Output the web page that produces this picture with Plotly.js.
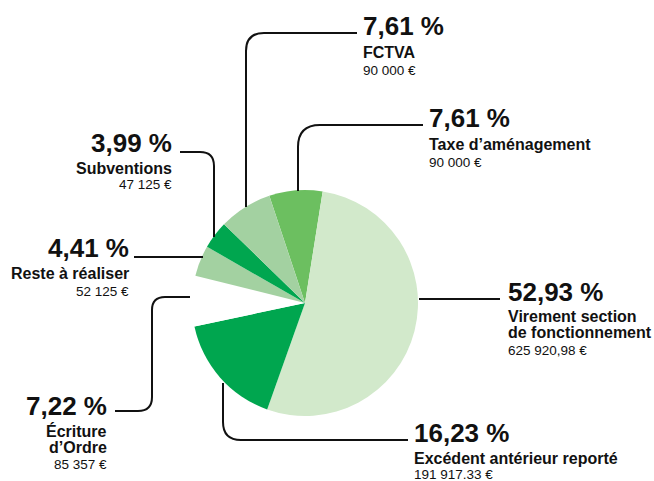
<!DOCTYPE html>
<html>
<head>
<meta charset="utf-8">
<script src="https://cdn.plot.ly/plotly-3.0.1.min.js"></script>
<style>
  html, body { margin: 0; padding: 0; background: #fff; }
  #chart { width: 654px; height: 481px; }
</style>
</head>
<body>
<div id="chart"></div>
<script>
// slices, clockwise from the top
var labels = ['Taxe d’aménagement', 'Virement section de fonctionnement', 'Excédent antérieur reporté',
              'Écriture d’Ordre', 'Reste à réaliser', 'Subventions', 'FCTVA'];
var values = [90000, 625920.98, 191917.33, 85357, 52125, 47125, 90000];
var amounts = ['90 000 €', '625 920,98 €', '191 917.33 €', '85 357 €', '52 125 €', '47 125 €', '90 000 €'];
var nameLines = [['Taxe d’aménagement'], ['Virement section', 'de fonctionnement'], ['Excédent antérieur reporté'],
                 ['Écriture', 'd’Ordre'], ['Reste à réaliser'], ['Subventions'], ['FCTVA']];
var colors = ['#6cbf60', '#d2e9cb', '#00a64f', '#ffffff', '#a3d1a1', '#00a64f', '#a3d1a1'];

var W = 654, H = 481;
var NUM_FONT = '"Liberation Sans", Arial, sans-serif';
var TXT_FONT = '"Liberation Sans", Arial, sans-serif';

// callout placement, in pixels (x = text edge, y = centre of each text line)
var callouts = [
  {x: 428, side: 'left',  num: 118, names: [144],      amt: 162, path: [[298,191],'V',147,'Q',[298,125],[320,125],'H',423]},
  {x: 507, side: 'left',  num: 292, names: [316, 332], amt: 350, path: [[419,299],'H',500]},
  {x: 413, side: 'left',  num: 433, names: [458],      amt: 474, path: [[223,383],'V',422,'Q',[223,440],[241,440],'H',408]},
  {x: 108, side: 'right', num: 406, names: [431, 447], amt: 464, path: [[190,297],'H',165,'Q',[152,297],[152,310],'V',397,'Q',[152,411],[138,411],'H',115]},
  {x: 130, side: 'right', num: 248, names: [273],      amt: 291, path: [[203,257],'H',134]},
  {x: 173, side: 'right', num: 143, names: [168],      amt: 185, path: [[214,237],'V',166,'Q',[214,152],[200,152],'H',180]},
  {x: 362, side: 'left',  num: 26,  names: [52],       amt: 70,  path: [[246,207],'V',51,'Q',[246,33],[264,33],'H',357]}
];

function px(x) { return x / W; }
function py(y) { return 1 - y / H; }
function pt(p) { return px(p[0]) + ',' + py(p[1]); }

// build an svg path in paper units from pixel steps
function buildPath(steps) {
  var s = 'M' + pt(steps[0]);
  var cur = steps[0].slice();
  for (var i = 1; i < steps.length; i++) {
    var c = steps[i];
    if (c === 'H') { cur[0] = steps[++i]; s += ' L' + pt(cur); }
    else if (c === 'V') { cur[1] = steps[++i]; s += ' L' + pt(cur); }
    else if (c === 'Q') { var ctl = steps[++i], end = steps[++i]; s += ' Q' + pt(ctl) + ' ' + pt(end); cur = end.slice(); }
  }
  return s;
}

var total = values.reduce(function (a, b) { return a + b; }, 0);
function pctText(v) {
  return (v / total * 100).toFixed(2).replace('.', ',') + ' %';
}

// pie centre (305,303) radius 113 px
var cx = 305, cy = 303, r = 113;

var trace = {
  type: 'pie',
  labels: labels,
  values: values,
  sort: false,
  direction: 'clockwise',
  rotation: -18.4,
  textinfo: 'none',
  hoverinfo: 'none',
  showlegend: false,
  marker: { colors: colors, line: { width: 0 } },
  domain: { x: [px(cx - r), px(cx + r)], y: [py(cy + r), py(cy - r)] }
};

var annotations = [], shapes = [];
for (var i = 0; i < labels.length; i++) {
  var c = callouts[i];
  var base = { xref: 'paper', yref: 'paper', x: px(c.x), showarrow: false, xanchor: c.side, yanchor: 'middle', borderpad: 0 };
  annotations.push(Object.assign({}, base, {
    y: py(c.num), text: pctText(values[i]),
    font: { family: NUM_FONT, size: 26, weight: 700, color: '#111' }
  }));
  for (var j = 0; j < nameLines[i].length; j++) {
    annotations.push(Object.assign({}, base, {
      y: py(c.names[j]), text: nameLines[i][j],
      font: { family: TXT_FONT, size: 16, weight: 700, color: '#111' }
    }));
  }
  annotations.push(Object.assign({}, base, {
    y: py(c.amt), text: amounts[i],
    font: { family: TXT_FONT, size: 13.5, color: '#111' }
  }));
  shapes.push({
    type: 'path', xref: 'paper', yref: 'paper', path: buildPath(c.path),
    line: { color: '#111', width: 2 }
  });
}

var layout = {
  width: W,
  height: H,
  margin: { l: 0, r: 0, t: 0, b: 0 },
  paper_bgcolor: '#fff',
  annotations: annotations,
  shapes: shapes
};

Plotly.newPlot('chart', [trace], layout, { staticPlot: true });
</script>
</body>
</html>
